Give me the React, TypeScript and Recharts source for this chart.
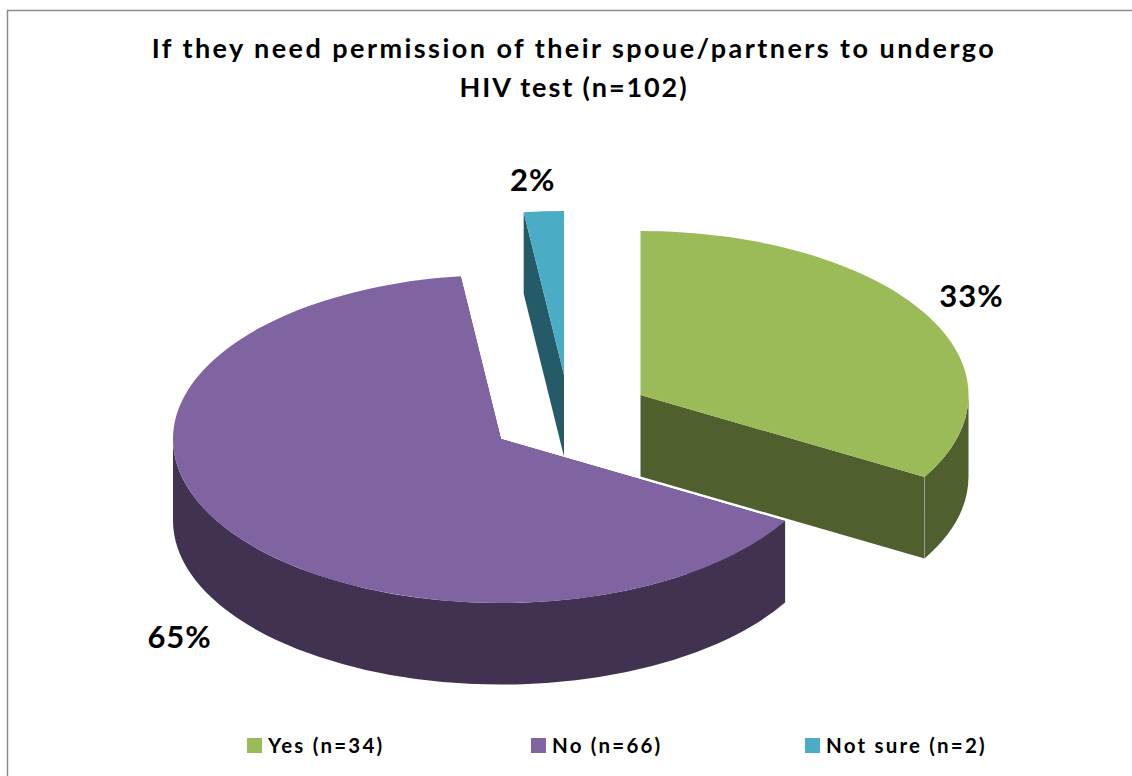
import React from "react";
import { PieChart, Pie, Legend } from "recharts";

const categories = ["Yes (n=34)", "No (n=66)", "Not sure (n=2)"];
const counts = [34, 66, 2];
const percentLabels = ["33%", "65%", "2%"];
const topColors = ["#9BBB59", "#8064A2", "#4BACC6"];
const sideColors = ["#4F5F2E", "#413252", "#255A69"];
const titleLines = [
  "If they need permission of their spoue/partners to undergo",
  "HIV test (n=102)",
];
const titleSpacing = [2.45, 1.9];

const W = 1132;
const H = 776;
const CX = 501;
const CY = 439;
const RX = 328;
const RY = 164;
const DEPTH = 81.5;
const FONT = "Lato, 'Open Sans', sans-serif";
const explode = [
  { dx: 139.5, dy: -44 },
  { dx: 0, dy: 0 },
  { dx: 63, dy: -64 },
];
const labelNudge = [
  { dx: 47, dy: -18 },
  { dx: -48, dy: 106 },
  { dx: -11, dy: -32 },
];
const legendX = [247, 531, 805];

const table = categories.map((name, i) => ({
  name,
  value: counts[i],
  fill: topColors[i],
  side: sideColors[i],
}));

const pt = (cx: number, cy: number, t: number) => {
  const r = (t * Math.PI) / 180;
  return { x: cx + RX * Math.sin(r), y: cy - RY * Math.cos(r) };
};

function Slice3D(props: any) {
  const { cx, cy, startAngle, endAngle, fill, index } = props;
  const side = table[index].side;
  const x0 = cx + explode[index].dx;
  const y0 = cy + explode[index].dy;
  const t0 = 90 - startAngle;
  const t1 = 90 - endAngle;
  const a = pt(x0, y0, t0);
  const b = pt(x0, y0, t1);
  const large = t1 - t0 > 180 ? 1 : 0;
  const top = `M${x0},${y0}L${a.x},${a.y}A${RX},${RY} 0 ${large} 1 ${b.x},${b.y}Z`;
  const quad = (p: { x: number; y: number }) =>
    `M${x0},${y0}L${p.x},${p.y}L${p.x},${p.y + DEPTH}L${x0},${y0 + DEPTH}Z`;
  const wa = Math.max(t0, 90);
  const wb = Math.min(t1, 270);
  let wall = "";
  if (wb > wa) {
    const p = pt(x0, y0, wa);
    const q = pt(x0, y0, wb);
    const lg = wb - wa > 180 ? 1 : 0;
    wall = `M${p.x},${p.y}A${RX},${RY} 0 ${lg} 1 ${q.x},${q.y}L${q.x},${q.y + DEPTH}A${RX},${RY} 0 ${lg} 0 ${p.x},${p.y + DEPTH}Z`;
  }
  const edgeVisible = t1 > 90 && t1 < 270;
  return (
    <g>
      <path d={quad(a)} fill={side} />
      <path d={quad(b)} fill={side} />
      {wall && <path d={wall} fill={side} />}
      {edgeVisible && (
        <line x1={b.x} y1={b.y} x2={b.x} y2={b.y + DEPTH} stroke="#FFFFFF" strokeOpacity={0.25} strokeWidth={1} />
      )}
      <path d={top} fill={fill} />
    </g>
  );
}

function renderLabel(props: any) {
  const { cx, cy, midAngle, index } = props;
  const t = 90 - midAngle;
  const p = pt(cx + explode[index].dx, cy + explode[index].dy, t);
  return (
    <text
      x={p.x + labelNudge[index].dx}
      y={p.y + labelNudge[index].dy}
      textAnchor="middle"
      dominantBaseline="central"
      fontFamily={FONT}
      fontWeight={700}
      fontSize={31}
      letterSpacing={1}
      fill="#000000"
    >
      {percentLabels[index]}
    </text>
  );
}

function renderLegend(props: any) {
  const items = props.payload || [];
  return (
    <div style={{ position: "relative", width: W, height: 40 }}>
      {items.map((it: any, i: number) => (
        <div
          key={it.value}
          style={{
            position: "absolute",
            left: legendX[i],
            top: 0,
            display: "flex",
            alignItems: "center",
            height: 30,
            fontFamily: FONT,
            fontWeight: 700,
            fontSize: 20.5,
            letterSpacing: 2.2,
            color: "#000",
            whiteSpace: "nowrap",
          }}
        >
          <span style={{ display: "inline-block", width: 15, height: 15, background: it.color, marginRight: 6 }} />
          {it.value}
        </div>
      ))}
    </div>
  );
}

export default function App() {
  return (
    <div style={{ position: "absolute", left: 0, top: 0, width: W, height: H, background: "#fff", overflow: "hidden" }}>
      <PieChart width={W} height={H} margin={{ top: 0, right: 0, bottom: 0, left: 0 }}>
        <rect x={7.5} y={10.5} width={W + 20} height={H + 20} fill="#fff" stroke="#8C8C8C" strokeWidth={1.5} />
        {titleLines.map((line, i) => (
          <text
            key={line}
            x={574}
            y={58 + i * 39}
            textAnchor="middle"
            fontFamily={FONT}
            fontWeight={700}
            fontSize={27}
            letterSpacing={titleSpacing[i]}
            fill="#000"
          >
            {line}
          </text>
        ))}
        <Pie
          data={table}
          dataKey="value"
          nameKey="name"
          cx={CX}
          cy={CY}
          innerRadius={0}
          outerRadius={RX}
          startAngle={90}
          endAngle={-270}
          paddingAngle={0}
          stroke="none"
          shape={Slice3D}
          label={renderLabel}
          labelLine={false}
          isAnimationActive={false}
        />
        <Legend
          content={renderLegend}
          itemSorter={null}
          wrapperStyle={{ position: "absolute", left: 0, top: 730, width: W, height: 40 }}
        />
      </PieChart>
    </div>
  );
}
